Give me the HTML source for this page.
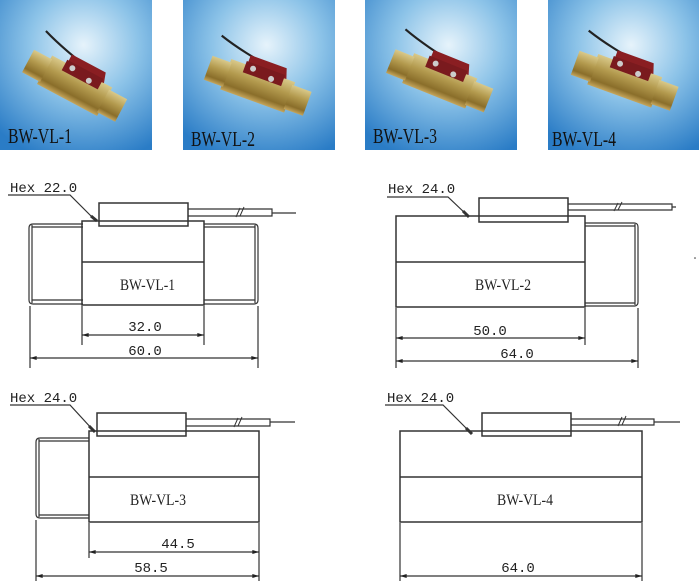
<!DOCTYPE html>
<html><head><meta charset="utf-8"><style>
html,body{margin:0;padding:0;background:#fff;width:699px;height:581px;overflow:hidden}
svg{display:block}
.t{font-family:"Liberation Mono","DejaVu Sans Mono",monospace;font-size:14px;fill:#222}
.l{font-family:"Liberation Serif",serif;font-size:16px;fill:#222}
.p{font-family:"Liberation Serif",serif;font-size:21px;fill:#111}
</style></head><body>
<svg width="699" height="581" viewBox="0 0 699 581" xmlns="http://www.w3.org/2000/svg">
<defs>
<radialGradient id="bg" cx="0.55" cy="0.3" r="0.8">
<stop offset="0" stop-color="#e6f3fb"/><stop offset="0.45" stop-color="#8cc3e8"/><stop offset="1" stop-color="#2a7cc6"/>
</radialGradient>
<linearGradient id="brass" x1="0" y1="0" x2="0" y2="1">
<stop offset="0" stop-color="#d9c98a"/><stop offset="0.4" stop-color="#b39a4e"/><stop offset="0.8" stop-color="#8a6e2a"/><stop offset="1" stop-color="#c6a65c"/>
</linearGradient>
<marker id="a" viewBox="0 0 10 6" refX="10" refY="3" markerWidth="10" markerHeight="4" orient="auto-start-reverse" markerUnits="userSpaceOnUse"><path d="M0,0 L10,3 L0,6 Z" fill="#222"/></marker>
<g id="dev">
 <path d="M-60,-40 C-30,-30 0,-26 20,-22" stroke="#222" stroke-width="2.5" fill="none"/>
 <rect x="-40" y="-18" width="80" height="38" fill="url(#brass)"/>
 <rect x="-62" y="-14" width="24" height="30" fill="url(#brass)"/>
 <rect x="38" y="-14" width="24" height="30" fill="url(#brass)"/>
 <path d="M-20,-30 L25,-30 L29,-18 L-20,-14 Z" fill="#8a1e22"/>
 <rect x="-22" y="-22" width="48" height="14" fill="#7a1a1e"/>
 <circle cx="-12" cy="-16" r="3.5" fill="#ccc"/><circle cx="12" cy="-12" r="3.5" fill="#ccc"/>
</g>
</defs>
<!-- photos -->
<rect x="0" y="0" width="152" height="150" fill="url(#bg)"/>
<use href="#dev" transform="translate(75,85) rotate(28) scale(0.85)"/>
<text class="p" x="8" y="143" textLength="64" lengthAdjust="spacingAndGlyphs">BW-VL-1</text>
<rect x="183" y="0" width="152" height="150" fill="url(#bg)"/>
<use href="#dev" transform="translate(258,85) rotate(20) scale(0.85)"/>
<text class="p" x="191" y="146" textLength="64" lengthAdjust="spacingAndGlyphs">BW-VL-2</text>
<rect x="365" y="0" width="152" height="150" fill="url(#bg)"/>
<use href="#dev" transform="translate(440,80) rotate(22) scale(0.85)"/>
<text class="p" x="373" y="143" textLength="64" lengthAdjust="spacingAndGlyphs">BW-VL-3</text>
<rect x="548" y="0" width="151" height="150" fill="url(#bg)"/>
<use href="#dev" transform="translate(625,80) rotate(20) scale(0.85)"/>
<text class="p" x="552" y="146" textLength="64" lengthAdjust="spacingAndGlyphs">BW-VL-4</text>

<g stroke="#333" fill="none" stroke-width="1.2">
<!-- D1 -->
<path d="M8,195 H70 L95,220" /><path d="M91,216 L97,221" stroke-width="3"/>
<rect x="99" y="203" width="89" height="23" stroke-width="1.5"/>
<path d="M188,209 H272 V216 H188 M272,213 H296"/>
<rect x="82" y="221" width="122" height="84" stroke-width="1.5"/><path d="M82,262 H204" stroke-width="1.5"/>
<path d="M83,224 H33 Q29,224 29,228 V300 Q29,304 33,304 H83 M32,227 H83 M32,300 H83 M32,225 V303" />
<path d="M204,224 H254 Q258,224 258,228 V300 Q258,304 254,304 H204 M204,227 H255 M204,300 H255 M255,225 V303"/>
<path d="M30,306 V368 M82,306 V345 M204,306 V345 M258,306 V368"/>
<path d="M82,335 H204" marker-start="url(#a)" marker-end="url(#a)"/>
<path d="M30,358 H258" marker-start="url(#a)" marker-end="url(#a)"/>
<!-- D2 -->
<path d="M387,197 H448 L467,215"/><path d="M463,211 L469,217" stroke-width="3"/>
<rect x="479" y="198" width="89" height="24" stroke-width="1.5"/>
<path d="M568,204 H672 V210 H568 M672,207 H676"/>
<rect x="396" y="216" width="189" height="91" stroke-width="1.5"/><path d="M396,262 H585" stroke-width="1.5"/>
<path d="M585,223 H634 Q638,223 638,227 V302 Q638,306 634,306 H585 M585,226 H635 M585,303 H635 M635,224 V305"/>
<path d="M396,308 V368 M585,308 V345 M638,308 V368"/>
<path d="M396,338 H585" marker-start="url(#a)" marker-end="url(#a)"/>
<path d="M396,361 H638" marker-start="url(#a)" marker-end="url(#a)"/>
<!-- D3 -->
<path d="M10,405 H70 L93,430"/><path d="M89,426 L95,432" stroke-width="3"/>
<rect x="97" y="413" width="89" height="23" stroke-width="1.5"/>
<path d="M186,419 H270 V426 H186 M270,422 H295"/>
<rect x="89" y="431" width="170" height="91" stroke-width="1.5"/><path d="M89,477 H259" stroke-width="1.5"/>
<path d="M89,438 H40 Q36,438 36,442 V514 Q36,518 40,518 H89 M39,441 H89 M39,515 H89 M39,439 V517"/>
<path d="M36,520 V581 M89,523 V558 M259,523 V581"/>
<path d="M89,552 H259" marker-start="url(#a)" marker-end="url(#a)"/>
<path d="M36,576 H259" marker-start="url(#a)" marker-end="url(#a)"/>
<!-- D4 -->
<path d="M385,405 H443 L470,432"/><path d="M466,428 L472,434" stroke-width="3"/>
<rect x="482" y="413" width="89" height="23" stroke-width="1.5"/>
<path d="M571,419 H654 V425 H571 M654,422 H680"/>
<rect x="400" y="431" width="242" height="91" stroke-width="1.5"/><path d="M400,477 H642" stroke-width="1.5"/>
<path d="M400,523 V581 M642,523 V581"/>
<path d="M400,576 H642" marker-start="url(#a)" marker-end="url(#a)"/>
</g>
<g stroke="#333" stroke-width="1" fill="none">
<path d="M236,217 L240,208 M240,216 L244,207"/>
<path d="M614,211 L618,203 M618,210 L622,202"/>
<path d="M234,427 L238,418 M238,426 L242,417"/>
<path d="M618,426 L622,417 M622,425 L626,416"/>
</g>
<circle cx="695" cy="258" r="0.8" fill="#333"/>
<text class="t" x="10" y="192">Hex 22.0</text>
<text class="t" x="388" y="193">Hex 24.0</text>
<text class="t" x="10" y="402">Hex 24.0</text>
<text class="t" x="387" y="402">Hex 24.0</text>
<text class="l" x="120" y="290" textLength="55" lengthAdjust="spacingAndGlyphs">BW-VL-1</text>
<text class="l" x="475" y="290" textLength="56" lengthAdjust="spacingAndGlyphs">BW-VL-2</text>
<text class="l" x="130" y="505" textLength="56" lengthAdjust="spacingAndGlyphs">BW-VL-3</text>
<text class="l" x="497" y="505" textLength="56" lengthAdjust="spacingAndGlyphs">BW-VL-4</text>
<text class="t" x="145" y="331" text-anchor="middle">32.0</text>
<text class="t" x="145" y="355" text-anchor="middle">60.0</text>
<text class="t" x="490" y="335" text-anchor="middle">50.0</text>
<text class="t" x="517" y="358" text-anchor="middle">64.0</text>
<text class="t" x="178" y="548" text-anchor="middle">44.5</text>
<text class="t" x="151" y="572" text-anchor="middle">58.5</text>
<text class="t" x="518" y="572" text-anchor="middle">64.0</text>
</svg>
</body></html>
